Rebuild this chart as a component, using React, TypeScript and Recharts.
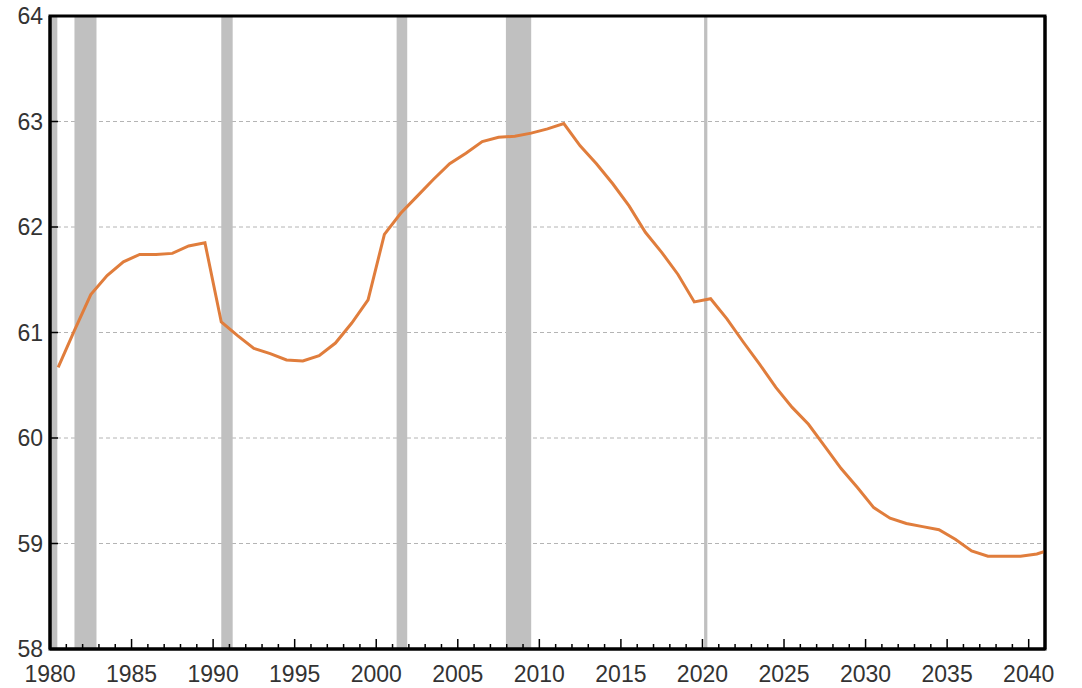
import { CartesianGrid, Line, LineChart, ReferenceArea, XAxis, YAxis } from "recharts";

const years = [
  1980, 1981, 1982, 1983, 1984, 1985, 1986, 1987, 1988, 1989,
  1990, 1991, 1992, 1993, 1994, 1995, 1996, 1997, 1998, 1999,
  2000, 2001, 2002, 2003, 2004, 2005, 2006, 2007, 2008, 2009,
  2010, 2011, 2012, 2013, 2014, 2015, 2016, 2017, 2018, 2019,
  2020, 2021, 2022, 2023, 2024, 2025, 2026, 2027, 2028, 2029,
  2030, 2031, 2032, 2033, 2034, 2035, 2036, 2037, 2038, 2039,
  2040, 2041,
];

const participation = [
  60.67, 61.02, 61.36, 61.54, 61.67, 61.74, 61.74, 61.75, 61.82, 61.85,
  61.1, 60.97, 60.85, 60.8, 60.74, 60.73, 60.78, 60.9, 61.09, 61.31,
  61.93, 62.13, 62.29, 62.45, 62.6, 62.7, 62.81, 62.85, 62.86, 62.89,
  62.93, 62.98, 62.77, 62.6, 62.41, 62.2, 61.95, 61.76, 61.55, 61.29,
  61.32, 61.13, 60.91, 60.7, 60.48, 60.29, 60.13, 59.92, 59.71, 59.53,
  59.34, 59.24, 59.19, 59.16, 59.13, 59.04, 58.93, 58.88, 58.88, 58.88,
  58.9, 58.95,
];

const recessionStart = [1980.0, 1981.5, 1990.5, 2001.25, 2007.95, 2020.1];
const recessionEnd = [1980.45, 1982.85, 1991.2, 2001.9, 2009.5, 2020.3];

const xTicks = years.filter((y) => y <= 2040);
const yTicks = [58, 59, 60, 61, 62, 63, 64];

const data = years.map((year, i) => ({ x: year + 0.5, value: participation[i] }));

const font = "'Liberation Sans', Arial, sans-serif";
const labelColor = "#333333";

function XTick(props: any) {
  const { x, y, payload } = props;
  const major = payload.value % 5 === 0;
  return (
    <g>
      <line x1={x} y1={y} x2={x} y2={y - (major ? 10 : 5)} stroke="#000" strokeWidth={1.5} />
      {major && (
        <text x={x} y={y + 33} textAnchor="middle" fill={labelColor} fontSize={23} fontFamily={font}>
          {payload.value}
        </text>
      )}
    </g>
  );
}

function YTickLeft(props: any) {
  const { x, y, payload } = props;
  return (
    <g>
      <line x1={x} y1={y} x2={x + 8} y2={y} stroke="#000" strokeWidth={1.5} />
      <text x={x - 7} y={y} dy="0.35em" textAnchor="end" fill={labelColor} fontSize={23} fontFamily={font}>
        {payload.value}
      </text>
    </g>
  );
}

function YTickRight(props: any) {
  const { x, y, payload } = props;
  return (
    <g>
      <line x1={x} y1={y} x2={x - 8} y2={y} stroke="#000" strokeWidth={1.5} />
      <text x={x + 7} y={y} dy="0.35em" textAnchor="start" fill={labelColor} fontSize={23} fontFamily={font}>
        {payload.value}
      </text>
    </g>
  );
}

export default function App() {
  return (
    <div style={{ position: "fixed", left: 0, top: 0, width: 1082, height: 688, background: "#fff" }}>
      <LineChart width={1082} height={688} data={data} margin={{ top: 16, right: 0, bottom: 0, left: 0 }}>
        <CartesianGrid yAxisId="left" vertical={false} stroke="#b4b4b4" strokeDasharray="4 3" />
        {recessionStart.map((s, i) => (
          <ReferenceArea
            key={s}
            yAxisId="left"
            x1={s}
            x2={recessionEnd[i]}
            y1={58}
            y2={64}
            fill="#c0c0c0"
            fillOpacity={1}
            stroke="none"
          />
        ))}
        <XAxis
          dataKey="x"
          type="number"
          domain={[1980, 2041]}
          allowDataOverflow
          ticks={xTicks}
          interval={0}
          tickSize={0}
          tickMargin={0}
          tick={<XTick />}
          tickLine={false}
          axisLine={{ stroke: "#000", strokeWidth: 3 }}
          height={39}
        />
        <YAxis
          yAxisId="left"
          domain={[58, 64]}
          ticks={yTicks}
          interval={0}
          tickSize={0}
          tickMargin={0}
          tick={<YTickLeft />}
          tickLine={false}
          axisLine={{ stroke: "#000", strokeWidth: 3 }}
          width={50}
        />
        <YAxis
          yAxisId="right"
          orientation="right"
          domain={[58, 64]}
          ticks={yTicks}
          interval={0}
          tickSize={0}
          tickMargin={0}
          tick={<YTickRight />}
          tickLine={false}
          axisLine={{ stroke: "#000", strokeWidth: 3 }}
          width={37}
        />
        <ReferenceArea
          yAxisId="left"
          x1={1980}
          x2={2041}
          y1={58}
          y2={64}
          fill="none"
          stroke="#000"
          strokeWidth={3}
        />
        <Line
          yAxisId="left"
          type="linear"
          dataKey="value"
          stroke="#e07d3c"
          strokeWidth={3}
          dot={false}
          isAnimationActive={false}
        />
      </LineChart>
    </div>
  );
}
